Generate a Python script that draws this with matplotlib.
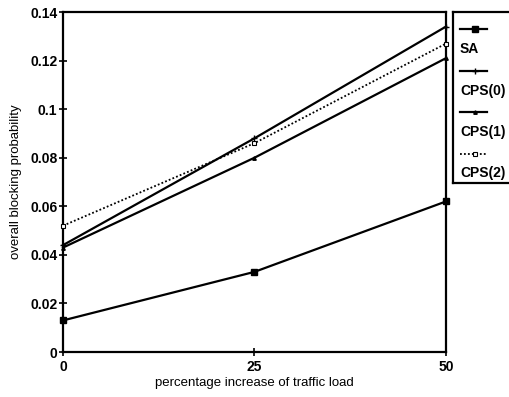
import matplotlib
matplotlib.use('Agg')
import matplotlib.pyplot as plt

plt.rc('font', family=['Liberation Sans', 'DejaVu Sans'], size=10)

# percentage increase of traffic load
load = [0, 25, 50]

# overall blocking probability
sa = [0.013, 0.033, 0.062]
cps0 = [0.044, 0.088, 0.134]
cps1 = [0.043, 0.080, 0.121]
cps2 = [0.052, 0.086, 0.127]

labels = ['SA', 'CPS(0)', 'CPS(1)', 'CPS(2)']
yticks = [0, 0.02, 0.04, 0.06, 0.08, 0.1, 0.12, 0.14]
ytick_labels = ['0', '0.02', '0.04', '0.06', '0.08', '0.1', '0.12', '0.14']
xticks = [0, 25, 50]

styles = [
    dict(color='black', lw=1.6, ls='-', marker='s', ms=5),
    dict(color='black', lw=1.6, ls='-', marker='+', ms=4, mew=1.0),
    dict(color='black', lw=1.6, ls='-', marker='^', ms=2.5),
    dict(color='black', lw=1.3, ls=(0, (1, 1.2)), marker='s', ms=3.5, mfc='white', mew=0.8),
]

fig = plt.figure(figsize=(5.1, 3.97), dpi=100)
ax = fig.add_axes([63 / 510, 45 / 397, 383 / 510, 340 / 397])

for series, st in zip([sa, cps0, cps1, cps2], styles):
    ax.plot(load, series, clip_on=False, zorder=3, **st)

ax.set_xlim(0, 50)
ax.set_ylim(0, 0.14)
ax.set_xticks(xticks)
ax.set_xticklabels([str(t) for t in xticks], fontweight='bold')
ax.set_yticks(yticks)
ax.set_yticklabels(ytick_labels, fontweight='bold')
ax.tick_params(direction='inout', length=6, width=1.2, pad=1)
ax.tick_params(axis='x', pad=3)
for s in ax.spines.values():
    s.set_linewidth(1.6)
ax.set_xlabel('percentage increase of traffic load', fontsize=9.5, labelpad=2)
ax.set_ylabel('overall blocking probability', fontsize=9.5, labelpad=6)

# legend drawn as a boxed panel: sample line above each label
lax = fig.add_axes([453 / 510, (397 - 183) / 397, 70 / 510, 171 / 397])
lax.set_xlim(0, 70)
lax.set_ylim(171, 0)
lax.set_xticks([])
lax.set_yticks([])
for s in lax.spines.values():
    s.set_linewidth(1.6)
for i, (lab, st) in enumerate(zip(labels, styles)):
    y0 = 17 + i * 41.5
    lax.plot([7, 34], [y0, y0], color='black', lw=st['lw'], ls=st['ls'])
    lax.plot([22], [y0], color='black', ls='none', marker=st['marker'], ms=st['ms'],
             mfc=st.get('mfc', 'black'), mew=st.get('mew', 1))
    lax.text(7, y0 + 20, lab, fontsize=10, fontweight='bold', va='center', ha='left')

fig.savefig('out.png', dpi=100)
